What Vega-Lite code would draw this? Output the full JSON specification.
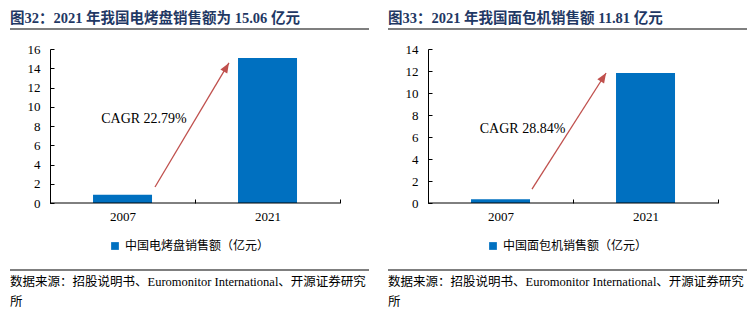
{
  "$schema": "https://vega.github.io/schema/vega-lite/v6.json",
  "padding": {"left": 9, "top": 10, "right": 0, "bottom": 0},
  "autosize": {"type": "pad"},
  "config": {"view": {"stroke": null}, "font": "Liberation Serif, Noto Sans CJK SC", "legend": {"layout": {"bottom": {"anchor": "middle"}}}},
  "spacing": 17,
  "resolve": {"legend": {"color": "independent"}, "scale": {"color": "independent"}},
  "hconcat": [
    {
      "spacing": 13,
      "resolve": {"legend": {"color": "independent"}, "scale": {"color": "independent"}},
      "vconcat": [
        {
          "width": 359, "height": 1,
          "title": {"text": "图32：2021 年我国电烤盘销售额为 15.06 亿元", "anchor": "start", "frame": "group", "fontSize": 14.5, "fontWeight": "bold", "color": "#1F3864", "font": "Liberation Serif, Noto Sans CJK SC", "offset": -9, "baseline": "alphabetic"},
          "data": {"values": [{"v": 0}]},
          "mark": {"type": "rule", "color": "#000", "strokeWidth": 1.2},
          "encoding": {"y": {"field": "v", "type": "quantitative", "scale": {"domain": [0, 1]}, "axis": null}}
        },
        {
          "width": 359, "height": 154,
          "encoding": {
            "x": {"field": "year", "type": "nominal", "scale": {"domain": ["2007", "2021"], "paddingInner": 0, "paddingOuter": 0.238, "align": 0.58},
              "axis": {"title": null, "domain": false, "tickBand": "extent", "tickSize": -4, "tickColor": "#000", "labelAngle": 0, "labelFontSize": 13, "labelColor": "#000", "labelPadding": 11, "labelFont": "Liberation Serif"}},
            "y": {"field": "value", "type": "quantitative", "scale": {"domain": [0, 16], "nice": false},
              "axis": {"title": null, "offset": -40, "values": [0, 2, 4, 6, 8, 10, 12, 14, 16], "tickSize": -4, "tickColor": "#000", "domainColor": "#000", "labelFontSize": 13, "labelColor": "#000", "labelPadding": 14, "grid": false, "labelFont": "Liberation Serif"}}
          },
          "layer": [
            {
              "data": {"values": [{"year": "2007", "value": 0.85, "series": "中国电烤盘销售额（亿元）"}, {"year": "2021", "value": 15.06, "series": "中国电烤盘销售额（亿元）"}]},
              "mark": {"type": "bar", "width": 59},
              "encoding": {"color": {"field": "series", "type": "nominal", "scale": {"range": ["#0070C0"]},
                "legend": {"title": null, "orient": "bottom", "symbolType": "square", "symbolSize": 60, "labelFontSize": 12, "labelFont": "Noto Sans CJK SC", "labelColor": "#000", "offset": 17, "symbolStrokeWidth": 0}}}
            },
            {
              "data": {"values": [{"year": "2007", "off": 0, "value": 0}, {"year": "2021", "off": 1, "value": 0}]},
              "mark": {"type": "line", "color": "#000", "strokeWidth": 1},
              "encoding": {"xOffset": {"field": "off", "type": "quantitative", "scale": {"domain": [0, 1]}}}
            },
            {
              "data": {"values": [{"year": "2007", "off": 0.724, "value": 1.66}, {"year": "2021", "off": 0.234, "value": 14.55}]},
              "mark": {"type": "line", "color": "#C0504D", "strokeWidth": 1.3},
              "encoding": {"xOffset": {"field": "off", "type": "quantitative", "scale": {"domain": [0, 1]}}}
            },
            {
              "data": {"values": [{"year": "2021", "off": 0.234, "value": 14.55}]},
              "mark": {"type": "point", "shape": "M0,0L-0.4,1L0.4,1Z", "size": 400, "filled": true, "color": "#C0504D", "opacity": 1, "angle": 30.8, "strokeWidth": 0},
              "encoding": {"xOffset": {"field": "off", "type": "quantitative", "scale": {"domain": [0, 1]}}}
            },
            {
              "data": {"values": [{"year": "2007", "off": 0.648, "value": 8.73, "label": "CAGR 22.79%"}]},
              "mark": {"type": "text", "fontSize": 14, "font": "Liberation Serif", "align": "center", "baseline": "middle", "color": "#000"},
              "encoding": {"xOffset": {"field": "off", "type": "quantitative", "scale": {"domain": [0, 1]}}, "text": {"field": "label"}}
            }
          ]
        },
        {
          "width": 359, "height": 5,
          "title": {"text": ["数据来源：招股说明书、Euromonitor International、开源证券研究", "所"], "orient": "bottom", "anchor": "start", "frame": "group", "fontSize": 12.5, "fontWeight": "normal", "color": "#000", "font": "Liberation Serif, Noto Sans CJK SC", "lineHeight": 20, "offset": 5, "baseline": "top"},
          "data": {"values": [{"v": 0}]},
          "mark": {"type": "rule", "color": "#000", "strokeWidth": 1.2},
          "encoding": {"y": {"field": "v", "type": "quantitative", "scale": {"domain": [0, 1]}, "axis": null}}
        }
      ]
    },
    {
      "spacing": 13,
      "resolve": {"legend": {"color": "independent"}, "scale": {"color": "independent"}},
      "vconcat": [
        {
          "width": 359, "height": 1,
          "title": {"text": "图33：2021 年我国面包机销售额 11.81 亿元", "anchor": "start", "frame": "group", "fontSize": 14.5, "fontWeight": "bold", "color": "#1F3864", "font": "Liberation Serif, Noto Sans CJK SC", "offset": -9, "baseline": "alphabetic"},
          "data": {"values": [{"v": 0}]},
          "mark": {"type": "rule", "color": "#000", "strokeWidth": 1.2},
          "encoding": {"y": {"field": "v", "type": "quantitative", "scale": {"domain": [0, 1]}, "axis": null}}
        },
        {
          "width": 359, "height": 154,
          "encoding": {
            "x": {"field": "year", "type": "nominal", "scale": {"domain": ["2007", "2021"], "paddingInner": 0, "paddingOuter": 0.238, "align": 0.58},
              "axis": {"title": null, "domain": false, "tickBand": "extent", "tickSize": -4, "tickColor": "#000", "labelAngle": 0, "labelFontSize": 13, "labelColor": "#000", "labelPadding": 11, "labelFont": "Liberation Serif"}},
            "y": {"field": "value", "type": "quantitative", "scale": {"domain": [0, 14], "nice": false},
              "axis": {"title": null, "offset": -40, "values": [0, 2, 4, 6, 8, 10, 12, 14], "tickSize": -4, "tickColor": "#000", "domainColor": "#000", "labelFontSize": 13, "labelColor": "#000", "labelPadding": 14, "grid": false, "labelFont": "Liberation Serif"}}
          },
          "layer": [
            {
              "data": {"values": [{"year": "2007", "value": 0.34, "series": "中国面包机销售额（亿元）"}, {"year": "2021", "value": 11.81, "series": "中国面包机销售额（亿元）"}]},
              "mark": {"type": "bar", "width": 59},
              "encoding": {"color": {"field": "series", "type": "nominal", "scale": {"range": ["#0070C0"]},
                "legend": {"title": null, "orient": "bottom", "symbolType": "square", "symbolSize": 60, "labelFontSize": 12, "labelFont": "Noto Sans CJK SC", "labelColor": "#000", "offset": 17, "symbolStrokeWidth": 0}}}
            },
            {
              "data": {"values": [{"year": "2007", "off": 0, "value": 0}, {"year": "2021", "off": 1, "value": 0}]},
              "mark": {"type": "line", "color": "#000", "strokeWidth": 1},
              "encoding": {"xOffset": {"field": "off", "type": "quantitative", "scale": {"domain": [0, 1]}}}
            },
            {
              "data": {"values": [{"year": "2007", "off": 0.717, "value": 1.27}, {"year": "2021", "off": 0.228, "value": 11.82}]},
              "mark": {"type": "line", "color": "#C0504D", "strokeWidth": 1.3},
              "encoding": {"xOffset": {"field": "off", "type": "quantitative", "scale": {"domain": [0, 1]}}}
            },
            {
              "data": {"values": [{"year": "2021", "off": 0.228, "value": 11.82}]},
              "mark": {"type": "point", "shape": "M0,0L-0.4,1L0.4,1Z", "size": 400, "filled": true, "color": "#C0504D", "opacity": 1, "angle": 32.5, "strokeWidth": 0},
              "encoding": {"xOffset": {"field": "off", "type": "quantitative", "scale": {"domain": [0, 1]}}}
            },
            {
              "data": {"values": [{"year": "2007", "off": 0.652, "value": 6.73, "label": "CAGR 28.84%"}]},
              "mark": {"type": "text", "fontSize": 14, "font": "Liberation Serif", "align": "center", "baseline": "middle", "color": "#000"},
              "encoding": {"xOffset": {"field": "off", "type": "quantitative", "scale": {"domain": [0, 1]}}, "text": {"field": "label"}}
            }
          ]
        },
        {
          "width": 359, "height": 5,
          "title": {"text": ["数据来源：招股说明书、Euromonitor International、开源证券研究", "所"], "orient": "bottom", "anchor": "start", "frame": "group", "fontSize": 12.5, "fontWeight": "normal", "color": "#000", "font": "Liberation Serif, Noto Sans CJK SC", "lineHeight": 20, "offset": 5, "baseline": "top"},
          "data": {"values": [{"v": 0}]},
          "mark": {"type": "rule", "color": "#000", "strokeWidth": 1.2},
          "encoding": {"y": {"field": "v", "type": "quantitative", "scale": {"domain": [0, 1]}, "axis": null}}
        }
      ]
    }
  ]
}
